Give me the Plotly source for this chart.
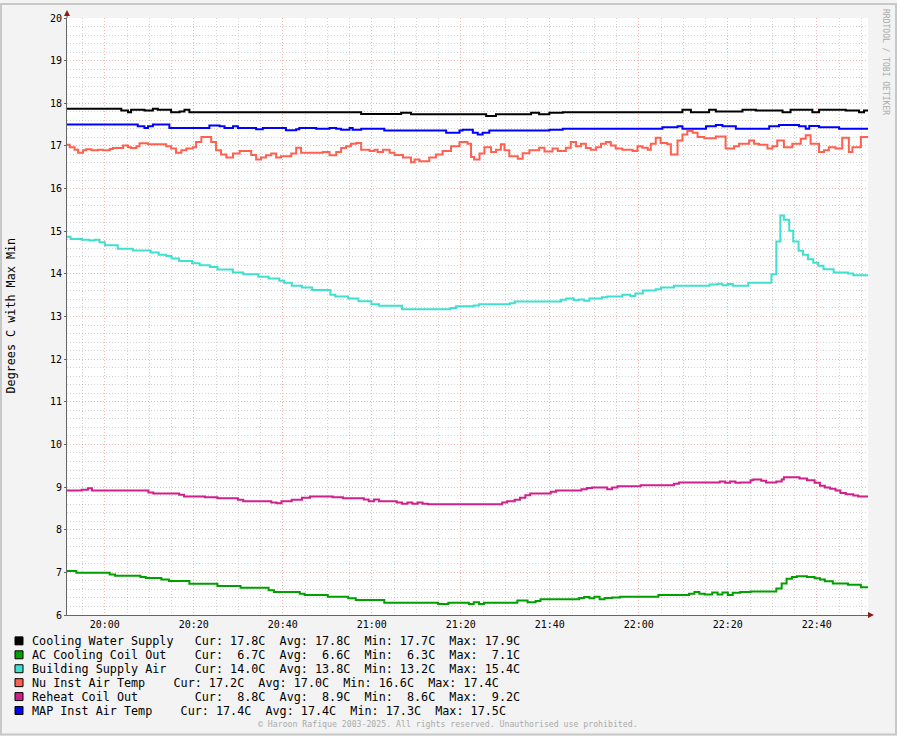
import plotly.graph_objects as go
import pandas as pd

# ---------------- data ----------------
START = pd.Timestamp("2025-06-01 19:51:30")
END_MIN = 180  # minutes shown

names = ["Cooling Water Supply", "AC Cooling Coil Out", "Building Supply Air",
         "Nu Inst Air Temp", "Reheat Coil Out", "MAP Inst Air Temp"]
colors = ["#000000", "#00A000", "#40E0D0", "#FF6050", "#D0208C", "#0000FF"]

cur_vals = [17.8, 6.7, 14.0, 17.2, 8.8, 17.4]
avg_vals = [17.8, 6.6, 13.8, 17.0, 8.9, 17.4]
min_vals = [17.7, 6.3, 13.2, 16.6, 8.6, 17.3]
max_vals = [17.9, 7.1, 15.4, 17.4, 9.2, 17.5]

# step change points: minutes after START, value (deg C)
cws_t = [0, 12.2, 13.7, 14.4, 17.4, 19.3, 20.4, 23.4, 25.3, 26.4, 27.5, 66.1, 75.1, 77.3,
         94.2, 96.4, 104.3, 106.1, 108.4, 111.4, 138.3, 140.2, 144.3, 145.8, 151.8, 154.8,
         160.8, 162.6, 167.5, 169.0, 175.0, 178.0, 179.1]
cws_v = [17.87, 17.83, 17.79, 17.85, 17.83, 17.87, 17.85, 17.79, 17.81, 17.85, 17.79, 17.75, 17.78, 17.74,
         17.70, 17.74, 17.78, 17.74, 17.78, 17.79, 17.85, 17.79, 17.85, 17.81, 17.85, 17.83,
         17.79, 17.85, 17.79, 17.85, 17.83, 17.79, 17.83]

acc_t = [0, 2.1, 9.6, 10.8, 16.5, 17.7, 21.2, 22.9, 27.5, 33.8, 39.0, 45.3, 46.5, 52.3, 53.4,
         58.6, 63.2, 64.9, 71.3, 83.4, 85.7, 90.3, 91.4, 92.6, 93.7, 101.2, 103.5, 105.3, 106.4,
         115.1, 116.2, 117.4, 118.5, 119.7, 120.8, 122.5, 124.3, 132.9, 139.8, 141.0, 142.1,
         143.3, 145.0, 146.2, 147.3, 148.5, 149.6, 151.3, 153.6, 159.4, 160.6, 161.7, 162.9,
         164.0, 166.3, 168.0, 169.2, 170.3, 172.1, 175.5, 178.4]
acc_v = [7.03, 6.99, 6.95, 6.92, 6.89, 6.87, 6.83, 6.80, 6.73, 6.68, 6.64, 6.58, 6.54, 6.50, 6.47,
         6.43, 6.39, 6.35, 6.29, 6.26, 6.29, 6.26, 6.30, 6.26, 6.29, 6.34, 6.30, 6.33, 6.37,
         6.40, 6.42, 6.39, 6.43, 6.37, 6.40, 6.41, 6.43, 6.47, 6.50, 6.54, 6.50,
         6.48, 6.53, 6.48, 6.53, 6.47, 6.52, 6.54, 6.55, 6.62, 6.74, 6.85, 6.89,
         6.91, 6.89, 6.86, 6.83, 6.79, 6.74, 6.71, 6.65]

bsa_t = [0, 0.8, 3.3, 5.0, 6.2, 7.3, 8.5, 11.4, 14.8, 18.8, 20.6, 22.3, 23.5, 25.2, 28.1, 29.8,
         32.1, 33.8, 37.3, 39.6, 43.0, 45.3, 47.7, 48.8, 50.5, 52.8, 55.1, 59.2, 60.3, 63.2,
         65.5, 68.4, 70.1, 75.3, 86.2, 87.4, 91.4, 92.6, 99.5, 100.6, 111.0, 112.2, 113.9,
         115.0, 116.2, 117.4, 120.2, 121.4, 124.8, 126.6, 127.7, 129.4, 132.3, 133.5, 136.4,
         144.4, 146.2, 147.3, 148.5, 149.6, 153.1, 158.3, 159.4, 160.3, 161.1, 162.3, 163.2,
         164.4, 165.4, 166.5, 167.7, 168.8, 170.0, 172.3, 175.5, 176.7]
bsa_v = [14.87, 14.82, 14.80, 14.78, 14.80, 14.74, 14.67, 14.59, 14.55, 14.50, 14.45, 14.42, 14.36, 14.30, 14.25, 14.20,
         14.16, 14.10, 14.03, 13.99, 13.93, 13.89, 13.84, 13.79, 13.72, 13.68, 13.62, 13.51, 13.47, 13.42,
         13.36, 13.29, 13.25, 13.17, 13.20, 13.24, 13.26, 13.29, 13.31, 13.35, 13.39, 13.42, 13.38,
         13.40, 13.37, 13.42, 13.45, 13.47, 13.51, 13.48, 13.54, 13.61, 13.64, 13.68, 13.72,
         13.75, 13.77, 13.73, 13.76, 13.72, 13.79, 13.99, 14.76, 15.37, 15.27, 15.01, 14.76,
         14.54, 14.45, 14.34, 14.26, 14.19, 14.11, 14.03, 14.01, 13.97]

nu_t = [0, 0.6, 1.7, 2.5, 3.6, 4.3, 5.5, 7.0, 8.1, 9.6, 10.3, 12.6, 13.7, 14.4, 15.6, 16.3,
        18.2, 22.3, 23.4, 24.5, 25.7, 26.8, 28.3, 29.0, 30.2, 32.4, 33.5, 34.6, 35.8, 37.3,
        38.8, 41.4, 42.5, 43.6, 44.7, 45.9, 47.0, 48.1, 50.4, 51.5, 52.6, 57.5, 59.0,
        60.5, 61.6, 62.7, 63.8, 65.0, 66.1, 68.0, 69.1, 69.8, 71.0, 72.5, 73.6, 75.5, 77.3,
        78.1, 79.2, 81.4, 82.9, 84.4, 86.3, 88.2, 90.0, 90.8, 91.5, 92.7, 93.8, 95.3, 96.4,
        97.5, 98.3, 99.4, 101.3, 102.4, 103.9, 106.1, 107.3, 109.1, 110.3, 112.1, 113.2,
        114.4, 115.5, 116.6, 117.7, 118.9, 120.0,
        121.1, 122.2, 123.3, 124.8, 127.1, 128.2, 129.3, 130.5, 131.2, 132.3, 133.4, 134.9,
        135.7, 137.2, 138.3, 139.4, 140.6, 141.7, 143.2, 145.8, 148.0, 149.9, 151.0, 153.3,
        154.4, 155.5, 157.4, 158.5, 159.6, 161.1, 163.0, 164.9, 166.0, 167.1, 169.0, 170.1,
        171.2, 172.7, 174.2, 175.7, 176.5, 178.4]
nu_v = [17.03, 16.97, 16.91, 16.84, 16.90, 16.92, 16.90, 16.91, 16.90, 16.93, 16.95, 17.01, 16.97, 16.95, 16.99, 17.06,
        17.04, 16.99, 16.94, 16.84, 16.90, 16.94, 16.97, 17.09, 17.21, 17.09, 16.90, 16.80, 16.73, 16.82,
        16.88, 16.79, 16.68, 16.73, 16.78, 16.82, 16.73, 16.76, 16.82, 16.96, 16.84, 16.86, 16.78,
        16.86, 16.95, 16.99, 17.05, 17.07, 16.91, 16.88, 16.91, 16.86, 16.91, 16.84, 16.79, 16.73, 16.62,
        16.68, 16.64, 16.73, 16.80, 16.88, 16.99, 17.09, 17.05, 16.74, 16.68, 16.82, 16.97, 16.86, 16.91,
        17.04, 16.90, 16.76, 16.70, 16.83, 16.90, 16.96, 16.87, 16.94, 16.88, 16.96, 17.09,
        16.99, 17.05, 16.95, 16.91, 16.97, 17.05,
        17.09, 17.01, 16.94, 16.91, 16.88, 16.99, 16.96, 16.91, 17.05, 17.19, 17.07, 17.04,
        16.80, 17.13, 17.27, 17.35, 17.31, 17.21, 17.18, 17.22, 16.94, 16.99, 17.05, 17.13,
        17.05, 17.03, 16.94, 16.99, 17.13, 16.97, 17.05, 17.17, 17.25, 17.05, 16.86, 16.90,
        16.97, 16.94, 17.19, 16.86, 16.97, 17.21]

rco_t = [0, 3.3, 4.7, 5.6, 18.3, 19.4, 25.2, 26.3, 31.0, 33.8, 38.4, 39.6, 45.9, 47.1, 48.2,
         50.5, 52.8, 54.6, 59.7, 62.0, 66.7, 67.8, 69.0, 70.1, 74.1, 75.3, 76.5, 77.6, 78.8,
         79.9, 81.1, 97.8, 98.9, 100.6, 101.8, 103.0, 104.1, 108.7, 109.9, 115.6, 116.8, 118.0,
         121.4, 122.5, 123.7, 128.9, 136.4, 137.5, 146.7, 147.9, 149.0, 150.2, 151.3, 153.6,
         154.2, 156.0, 157.1, 159.4, 160.6, 161.1, 164.6, 166.3, 168.0, 169.2, 170.3, 171.5,
         172.7, 173.8, 175.0, 176.7, 177.8]
rco_v = [8.92, 8.94, 8.97, 8.92, 8.87, 8.85, 8.82, 8.78, 8.76, 8.74, 8.70, 8.67, 8.64, 8.62, 8.67,
         8.70, 8.75, 8.78, 8.76, 8.74, 8.71, 8.67, 8.71, 8.67, 8.64, 8.61, 8.64, 8.61, 8.64,
         8.61, 8.60, 8.64, 8.67, 8.70, 8.75, 8.81, 8.85, 8.89, 8.92, 8.95, 8.98, 8.99,
         8.95, 8.99, 9.02, 9.04, 9.08, 9.11, 9.13, 9.10, 9.13, 9.10, 9.11, 9.16,
         9.18, 9.15, 9.11, 9.13, 9.18, 9.23, 9.20, 9.16, 9.10, 9.03, 8.99, 8.96,
         8.92, 8.86, 8.83, 8.80, 8.78]

map_t = [0, 15.9, 17.4, 18.2, 19.3, 23.0, 32.0, 34.3, 35.4, 37.3, 38.4, 42.5, 44.0, 49.2, 51.5,
         52.2, 56.0, 59.0, 60.5, 61.6, 63.5, 64.2, 66.1, 71.3, 85.2, 88.2, 88.9, 91.2, 92.3,
         93.4, 94.9, 108.4, 111.4, 133.8, 137.2, 138.3, 143.6, 145.8, 147.3, 150.3, 157.8,
         160.0, 164.5, 166.0, 166.8, 169.0, 173.5]
map_v = [17.50, 17.46, 17.42, 17.46, 17.50, 17.42, 17.48, 17.46, 17.42, 17.46, 17.42, 17.39, 17.42, 17.37, 17.39,
         17.42, 17.40, 17.42, 17.40, 17.38, 17.42, 17.38, 17.40, 17.36, 17.31, 17.36, 17.38, 17.31, 17.27,
         17.31, 17.36, 17.38, 17.40, 17.44, 17.46, 17.40, 17.46, 17.49, 17.46, 17.40, 17.46,
         17.49, 17.46, 17.40, 17.47, 17.44, 17.40]

series_t = [cws_t, acc_t, bsa_t, nu_t, rco_t, map_t]
series_v = [cws_v, acc_v, bsa_v, nu_v, rco_v, map_v]

# ---------------- figure ----------------
W, H = 897, 736
ML, MR, MT, MB = 67, 29, 15, 121
PW, PH = W - ML - MR, H - MT - MB

def px_x(p):
    return (p - ML) / PW

def px_y(p):
    return (H - MB - p) / PH

MONO = "DejaVu Sans Mono"
fig = go.Figure()

for name, col, ts, vs in zip(names, colors, series_t, series_v):
    x = [START + pd.Timedelta(minutes=t) for t in ts] + [START + pd.Timedelta(minutes=END_MIN)]
    y = list(vs) + [vs[-1]]
    fig.add_trace(go.Scatter(x=x, y=y, mode="lines", name=name,
                             line=dict(color=col, width=2, shape="hv"),
                             showlegend=False, hoverinfo="skip"))

MAJ = "rgba(235,120,120,0.55)"
MIN = "rgba(160,160,160,0.45)"

fig.update_layout(
    width=W, height=H, autosize=False,
    margin=dict(l=ML, r=MR, t=MT, b=MB, pad=0),
    paper_bgcolor="#F3F3F3", plot_bgcolor="#FFFFFF",
    font=dict(family=MONO, size=10, color="#000000"),
    xaxis=dict(
        type="date",
        range=[START, START + pd.Timedelta(minutes=END_MIN)],
        tick0=pd.Timestamp("2025-06-01 20:00:00"), dtick=20 * 60 * 1000,
        tickformat="%H:%M", tickfont=dict(family=MONO, size=10, color="#000000"),
        showgrid=True, gridcolor=MAJ, griddash="1px,2px", gridwidth=1,
        minor=dict(dtick=5 * 60 * 1000, showgrid=True, gridcolor=MIN, griddash="1px,2px", gridwidth=1),
        showline=True, linecolor="#666666", linewidth=1,
        ticks="", zeroline=False, fixedrange=True,
    ),
    yaxis=dict(
        range=[6, 20], tick0=6, dtick=1,
        tickfont=dict(family=MONO, size=10, color="#000000"),
        showgrid=True, gridcolor=MAJ, griddash="1px,2px", gridwidth=1,
        minor=dict(dtick=0.2, showgrid=True, gridcolor=MIN, griddash="1px,2px", gridwidth=1),
        showline=True, linecolor="#666666", linewidth=1,
        ticks="outside", ticklen=2, tickcolor="#666666",
        zeroline=False, fixedrange=True,
    ),
)

shapes = []
# frame
shapes.append(dict(type="rect", xref="paper", yref="paper",
                   x0=px_x(1), x1=px_x(W - 1), y0=px_y(H - 1), y1=px_y(1),
                   line=dict(color="#C8C8C8", width=2), fillcolor="rgba(0,0,0,0)", layer="below"))
# axis extensions and arrows
shapes.append(dict(type="line", xref="paper", yref="paper", x0=0, x1=0, y0=1, y1=px_y(10),
                   line=dict(color="#666666", width=1)))
shapes.append(dict(type="path", xref="paper", yref="paper",
                   path=f"M {px_x(ML-3)} {px_y(13)} L {px_x(ML+3)} {px_y(13)} L {px_x(ML)} {px_y(7)} Z",
                   fillcolor="#8B1A1A", line=dict(color="#8B1A1A", width=0)))
shapes.append(dict(type="line", xref="paper", yref="paper", x0=1, x1=px_x(870), y0=0, y1=0,
                   line=dict(color="#666666", width=1)))
shapes.append(dict(type="path", xref="paper", yref="paper",
                   path=f"M {px_x(868)} {px_y(612)} L {px_x(868)} {px_y(618)} L {px_x(874)} {px_y(615)} Z",
                   fillcolor="#8B1A1A", line=dict(color="#8B1A1A", width=0)))

LEG = 11.75
annotations = []
row_y = [641, 655, 669, 683, 697, 711]
name_pad = [23, 23, 23, 20, 23, 21]
for i, (name, col) in enumerate(zip(names, colors)):
    yc = row_y[i]
    shapes.append(dict(type="rect", xref="paper", yref="paper",
                       x0=px_x(15), x1=px_x(23), y0=px_y(yc + 4), y1=px_y(yc - 4),
                       fillcolor=col, line=dict(color="#000000", width=1)))
    txt = (f"{name:<{name_pad[i]}}Cur:{cur_vals[i]:5.1f}C  Avg:{avg_vals[i]:5.1f}C  "
           f"Min:{min_vals[i]:5.1f}C  Max:{max_vals[i]:5.1f}C").replace(" ", "\u00a0")
    annotations.append(dict(text=txt, xref="paper", yref="paper", x=px_x(29.5), y=px_y(yc),
                            xanchor="left", yanchor="middle", showarrow=False,
                            font=dict(family=MONO, size=LEG, color="#000000")))

annotations.append(dict(text="Degrees C with Max Min", xref="paper", yref="paper",
                        x=px_x(11), y=px_y(314), textangle=-90, showarrow=False,
                        xanchor="center", yanchor="middle",
                        font=dict(family=MONO, size=LEG, color="#000000")))
annotations.append(dict(text="RRDTOOL / TOBI OETIKER", xref="paper", yref="paper",
                        x=px_x(886), y=px_y(4), textangle=90, showarrow=False,
                        xanchor="center", yanchor="top",
                        font=dict(family=MONO, size=8, color="#AAAAAA")))
annotations.append(dict(text="© Haroon Rafique 2003-2025. All rights reserved. Unauthorised use prohibited.",
                        xref="paper", yref="paper", x=px_x(448), y=px_y(725), showarrow=False,
                        xanchor="center", yanchor="middle",
                        font=dict(family=MONO, size=8.2, color="#AAAAAA")))

fig.update_layout(shapes=shapes, annotations=annotations)
fig.write_html("out.html", config={"displayModeBar": False},
               post_script="document.body.style.margin='0px';document.body.style.overflow='hidden';")
